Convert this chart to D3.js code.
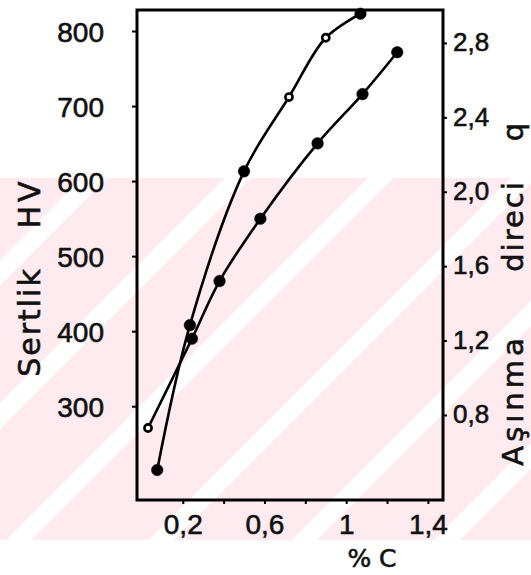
<!DOCTYPE html>
<html>
<head>
<meta charset="utf-8">
<script src="https://cdn.jsdelivr.net/npm/d3@7"></script>
<style>
    html, body { margin: 0; padding: 0; background: #fff; }
    svg { display: block; font-family: "DejaVu Sans", sans-serif; }
    svg text { stroke: #111; stroke-width: 0.6px; }
</style>
</head>
<body>
<svg id="chart" width="531" height="575"></svg>
<script>
// % C values and readings, hardness (left axis) and wear resistance (right axis)
const hardC = [0.075, 0.235, 0.50, 0.72, 0.90, 1.07];
const hardHV = [215, 408, 613, 712, 791, 823];
const hardOpen = [false, false, false, true, true, false];

const wearC = [0.03, 0.245, 0.38, 0.58, 0.86, 1.08, 1.25];
const wearQ = [0.73, 1.21, 1.52, 1.855, 2.26, 2.525, 2.75];
const wearOpen = [true, false, false, false, false, false, false];

const xTicks = [0.2, 0.4, 0.6, 0.8, 1.0, 1.2, 1.4];
const xLabels = { 0.2: "0,2", 0.6: "0,6", 1.0: "1", 1.4: "1,4" };
const hvTicks = [300, 400, 500, 600, 700, 800];
const qTicks = [0.8, 1.2, 1.6, 2.0, 2.4, 2.8];

const width = 531;
const height = 575;
const margin = { top: 10, right: 88, bottom: 75, left: 137 };

const svg = d3.select("#chart");

// faint diagonal watermark from the scan
const defs = svg.append("defs");
const pat = defs.append("pattern")
    .attr("id", "wm")
    .attr("patternUnits", "userSpaceOnUse")
    .attr("width", 200)
    .attr("height", 101)
    .attr("patternTransform", "rotate(-45)");
pat.append("rect").attr("width", 200).attr("height", 101).attr("fill", "#fdebef");
pat.append("rect").attr("y", 83).attr("width", 200).attr("height", 18).attr("fill", "#fff");

svg.append("rect")
    .attr("x", 0)
    .attr("y", 178)
    .attr("width", width)
    .attr("height", 362)
    .attr("fill", "url(#wm)");

// scales
const x = d3.scaleLinear()
    .domain([-0.024, 1.474])
    .range([margin.left, width - margin.right]);

const yHV = d3.scaleLinear()
    .domain([175, 828])
    .range([height - margin.bottom, margin.top]);

const yQ = d3.scaleLinear()
    .domain([0.343, 2.977])
    .range([height - margin.bottom, margin.top]);

const x0 = margin.left, x1 = width - margin.right;
const y0 = height - margin.bottom, y1 = margin.top;

// axes
svg.append("g")
    .attr("transform", `translate(${x0},0)`)
    .call(d3.axisLeft(yHV).tickValues(hvTicks).tickSize(5).tickPadding(28).tickFormat(d3.format("d")))
    .call(g => g.select(".domain").remove())
    .call(g => g.selectAll("line").attr("stroke-width", 2))
    .call(g => g.selectAll("text").attr("font-size", 28).attr("fill", "#111").attr("dy", "0.36em"));

svg.append("g")
    .attr("transform", `translate(${x1},0)`)
    .call(d3.axisRight(yQ).tickValues(qTicks).tickSize(4).tickPadding(6).tickFormat(d => String(d.toFixed(1)).replace(".", ",")))
    .call(g => g.select(".domain").remove())
    .call(g => g.selectAll("line").attr("stroke-width", 2))
    .call(g => g.selectAll("text").attr("font-size", 26).attr("fill", "#111").attr("dy", "0.3em"));

svg.append("g")
    .attr("transform", `translate(0,${y0})`)
    .call(d3.axisBottom(x).tickValues(xTicks).tickSize(4).tickPadding(10).tickFormat(d => xLabels[d] || ""))
    .call(g => g.select(".domain").remove())
    .call(g => g.selectAll("line").attr("stroke-width", 2))
    .call(g => g.selectAll("text").attr("font-size", 28).attr("fill", "#111"));

// frame
svg.append("rect")
    .attr("x", x0)
    .attr("y", y1)
    .attr("width", x1 - x0)
    .attr("height", y0 - y1)
    .attr("fill", "none")
    .attr("stroke", "#000")
    .attr("stroke-width", 3);

// curves
const hard = hardC.map((c, i) => ({ c, v: hardHV[i], open: hardOpen[i] }));
const wear = wearC.map((c, i) => ({ c, v: wearQ[i], open: wearOpen[i] }));

const lineHV = d3.line().x(d => x(d.c)).y(d => yHV(d.v)).curve(d3.curveCatmullRom.alpha(0.5));
const lineQ = d3.line().x(d => x(d.c)).y(d => yQ(d.v)).curve(d3.curveCatmullRom.alpha(0.5));

svg.append("path")
    .attr("d", lineHV(hard))
    .attr("fill", "none")
    .attr("stroke", "#000")
    .attr("stroke-width", 2.6);

svg.append("path")
    .attr("d", lineQ(wear))
    .attr("fill", "none")
    .attr("stroke", "#000")
    .attr("stroke-width", 2.6);

function drawMarks(data, yScale) {
    svg.append("g")
        .selectAll("circle")
        .data(data)
        .enter()
        .append("circle")
        .attr("cx", d => x(d.c))
        .attr("cy", d => yScale(d.v))
        .attr("r", d => d.open ? 3.6 : 5.8)
        .attr("fill", d => d.open ? "#fff" : "#000")
        .attr("stroke", "#000")
        .attr("stroke-width", d => d.open ? 2.6 : 0.5);
}
drawMarks(hard, yHV);
drawMarks(wear, yQ);

// axis titles
svg.append("text")
    .attr("transform", "translate(40,322) rotate(-90)")
    .attr("text-anchor", "middle")
    .attr("font-size", 30)
    .attr("letter-spacing", 2)
    .attr("fill", "#111")
    .text("Sertlik");

svg.append("text")
    .attr("transform", "translate(40,203) rotate(-90)")
    .attr("text-anchor", "middle")
    .attr("font-size", 30)
    .attr("letter-spacing", 4)
    .attr("fill", "#111")
    .text("HV");

const rightTitle = [["Aşınma", 400, 4], ["direci", 226, 2], ["q", 132, 0]];
rightTitle.forEach(([t, cy, ls]) => {
    svg.append("text")
        .attr("transform", `translate(523,${cy}) rotate(-90)`)
        .attr("text-anchor", "middle")
        .attr("font-size", 29)
        .attr("letter-spacing", ls)
        .attr("fill", "#111")
        .text(t);
});

svg.append("text")
    .attr("x", 372)
    .attr("y", 567)
    .attr("text-anchor", "middle")
    .attr("font-size", 25)
    .attr("fill", "#111")
    .text("% C");
</script>
</body>
</html>
